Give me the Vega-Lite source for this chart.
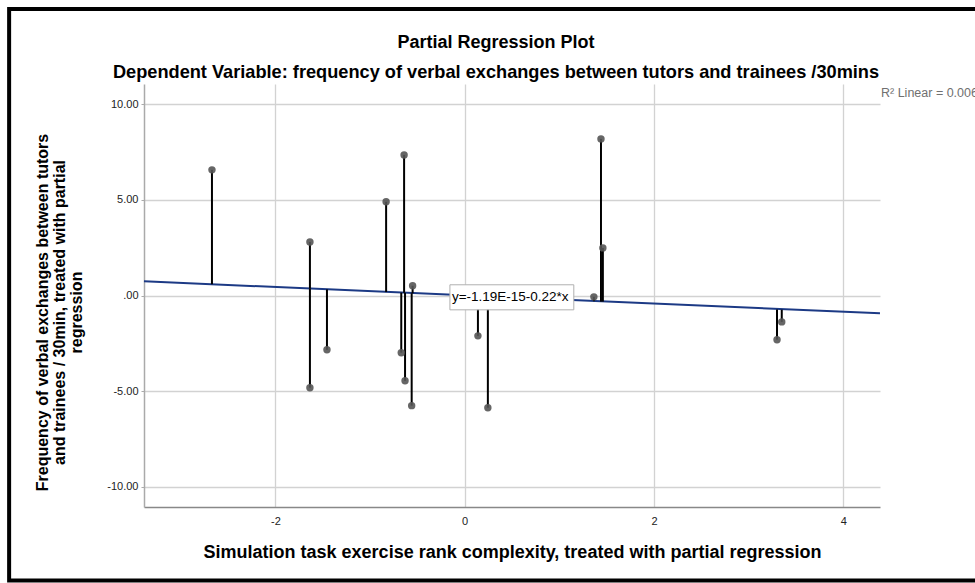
{
  "$schema": "https://vega.github.io/schema/vega-lite/v6.json",
  "width": 736,
  "height": 423,
  "autosize": {"type": "none"},
  "padding": {"left": 144, "top": 84, "right": 95, "bottom": 76},
  "background": "white",
  "title": {
    "text": "Partial Regression Plot",
    "subtitle": "Dependent Variable: frequency of verbal exchanges between tutors and trainees /30mins",
    "anchor": "middle",
    "frame": "group",
    "dx": -16,
    "offset": -74,
    "font": "Liberation Sans",
    "fontSize": 18,
    "fontWeight": "bold",
    "color": "#000000",
    "subtitleFont": "Liberation Sans",
    "subtitleFontSize": 18.2,
    "subtitleFontWeight": "bold",
    "subtitleColor": "#000000",
    "subtitlePadding": 12
  },
  "datasets": {
    "pts": [
      {"x": -2.67, "y": 6.57, "fit": 0.59},
      {"x": -1.635, "y": 2.8, "fit": 0.36},
      {"x": -1.635, "y": -4.82, "fit": 0.36},
      {"x": -1.455, "y": -2.84, "fit": 0.32},
      {"x": -0.83, "y": 4.9, "fit": 0.18},
      {"x": -0.67, "y": -2.99, "fit": 0.15},
      {"x": -0.64, "y": 7.35, "fit": 0.14},
      {"x": -0.63, "y": -4.46, "fit": 0.14},
      {"x": -0.56, "y": -5.76, "fit": 0.12},
      {"x": -0.55, "y": 0.51, "fit": 0.12},
      {"x": 0.14, "y": -2.11, "fit": -0.03},
      {"x": 0.245, "y": -5.87, "fit": -0.05},
      {"x": 1.365, "y": -0.07, "fit": -0.3},
      {"x": 1.44, "y": 8.19, "fit": -0.32},
      {"x": 1.46, "y": 2.49, "fit": -0.32},
      {"x": 3.3, "y": -2.31, "fit": -0.73},
      {"x": 3.35, "y": -1.38, "fit": -0.74}
    ]
  },
  "layer": [
    {
      "data": {"values": [{"frame": "border"}]},
      "mark": {"type": "rect", "fill": null, "stroke": "#000000", "strokeWidth": 4, "clip": false},
      "encoding": {
        "x": {"datum": -4.813, "type": "quantitative", "scale": {"domain": [-3.388, 4.388], "nice": false, "zero": false}},
        "x2": {"datum": 5.8},
        "y": {"datum": 14.98, "type": "quantitative", "scale": {"domain": [-11.06, 11.06], "nice": false, "zero": false}},
        "y2": {"datum": -14.91}
      }
    },
    {
      "data": {"name": "pts"},
      "transform": [{"regression": "y", "on": "x", "extent": [-3.388, 4.388]}],
      "mark": {"type": "line", "color": "#1c3a85", "strokeWidth": 2},
      "encoding": {
        "x": {"field": "x", "type": "quantitative"},
        "y": {"field": "y", "type": "quantitative"}
      }
    },
    {
      "data": {"name": "pts"},
      "mark": {"type": "rule", "color": "#000000", "strokeWidth": 2},
      "encoding": {
        "x": {"field": "x", "type": "quantitative"},
        "y": {"field": "y", "type": "quantitative"},
        "y2": {"field": "fit"}
      }
    },
    {
      "data": {"name": "pts"},
      "mark": {"type": "circle", "size": 55, "color": "#555555", "opacity": 0.9},
      "encoding": {
        "x": {
          "field": "x", "type": "quantitative",
          "title": "Simulation task exercise rank complexity, treated with partial regression",
          "axis": {
            "values": [-2, 0, 2, 4],
            "labelExpr": "(datum.value < 0 ? '-' : '') + format(abs(datum.value), 'd')",
            "labelFontSize": 11,
            "labelPadding": 8,
            "tickSize": 0,
            "titlePadding": 17,
            "titleFontSize": 18,
            "domainColor": "#888888",
            "domainWidth": 1.5
          }
        },
        "y": {
          "field": "y", "type": "quantitative",
          "title": ["Frequency of verbal exchanges between tutors", "and trainees / 30min, treated with partial", "regression"],
          "axis": {
            "values": [-10, -5, 0, 5, 10],
            "labelExpr": "datum.value == 0 ? '.00' : (datum.value < 0 ? '-' : '') + format(abs(datum.value), '.2f')",
            "labelFontSize": 11,
            "labelPadding": 3,
            "tickSize": 3,
            "titlePadding": 22,
            "titleFontSize": 16,
            "titleLineHeight": 17,
            "titleY": 228,
            "domainColor": "#aaaaaa",
            "domainWidth": 1.5
          }
        }
      }
    },
    {
      "data": {"values": [{"label": "y=-1.19E-15-0.22*x"}]},
      "mark": {"type": "rect", "fill": "white", "stroke": "#b0b0b0", "strokeWidth": 1},
      "encoding": {
        "x": {"datum": -0.156, "type": "quantitative"},
        "x2": {"datum": 1.153},
        "y": {"datum": 0.56, "type": "quantitative"},
        "y2": {"datum": -0.75}
      }
    },
    {
      "data": {"values": [{"label": "y=-1.19E-15-0.22*x"}]},
      "mark": {"type": "text", "align": "left", "baseline": "middle", "font": "Liberation Sans", "fontSize": 13.5, "color": "#000000"},
      "encoding": {
        "x": {"datum": -0.135, "type": "quantitative"},
        "y": {"datum": -0.09, "type": "quantitative"},
        "text": {"field": "label"}
      }
    },
    {
      "data": {"values": [{"label": "R² Linear = 0.006"}]},
      "mark": {"type": "text", "align": "left", "baseline": "middle", "dx": 1, "font": "Liberation Sans", "fontSize": 12.5, "color": "#707070", "clip": false},
      "encoding": {
        "x": {"datum": 4.388, "type": "quantitative"},
        "y": {"datum": 10.59, "type": "quantitative"},
        "text": {"field": "label"}
      }
    }
  ],
  "config": {
    "font": "Liberation Sans",
    "view": {"stroke": null},
    "axis": {
      "grid": true,
      "gridColor": "#d2d2d2",
      "gridWidth": 1.3,
      "labelFont": "Liberation Sans",
      "labelColor": "#222222",
      "tickColor": "#aaaaaa",
      "titleFont": "Liberation Sans",
      "titleFontWeight": "bold",
      "titleColor": "#000000"
    }
  }
}
